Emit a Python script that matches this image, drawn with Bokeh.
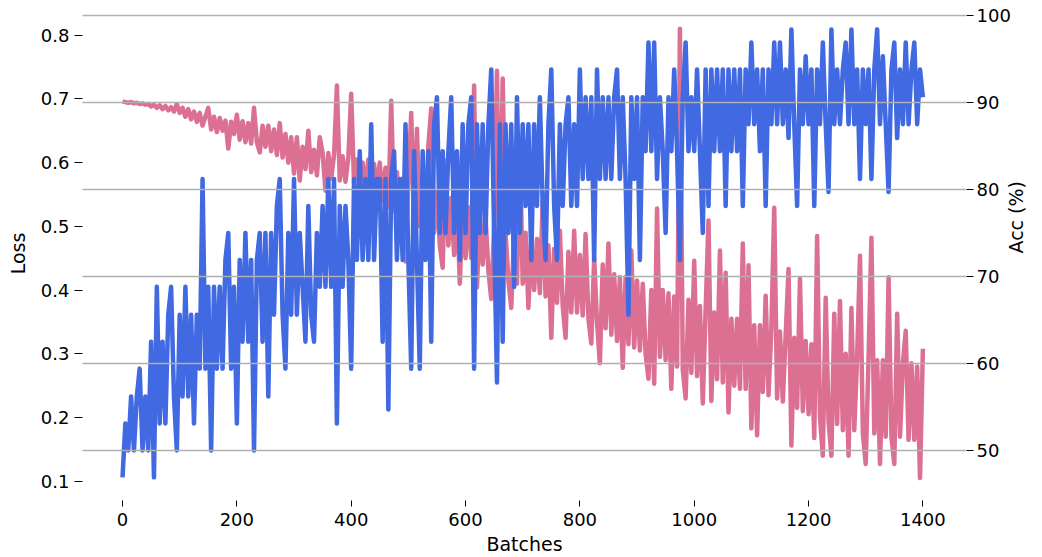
import math
from bokeh.plotting import figure
from bokeh.models import Range1d, LinearAxis, Grid, FixedTicker, ColumnDataSource
from bokeh.embed import file_html
from bokeh.resources import INLINE

# ---------------- data (one value every 5 batches) -------------
batch_step = 5
x_ticks = [0, 200, 400, 600, 800, 1000, 1200, 1400]
loss_ticks = [0.1, 0.2, 0.3, 0.4, 0.5, 0.6, 0.7, 0.8]
acc_ticks = [50, 60, 70, 80, 90, 100]

loss = [
    0.696, 0.695, 0.694, 0.695, 0.693, 0.694, 0.692, 0.693, 0.691, 0.692,
    0.688, 0.691, 0.686, 0.690, 0.684, 0.689, 0.682, 0.687, 0.680, 0.692,
    0.678, 0.686, 0.672, 0.684, 0.668, 0.680, 0.664, 0.678, 0.658, 0.672,
    0.686, 0.652, 0.672, 0.648, 0.670, 0.650, 0.666, 0.622, 0.664, 0.645,
    0.675, 0.636, 0.665, 0.632, 0.662, 0.630, 0.686, 0.632, 0.616, 0.658,
    0.625, 0.658, 0.618, 0.652, 0.612, 0.662, 0.608, 0.645, 0.600, 0.640,
    0.583, 0.640, 0.572, 0.625, 0.590, 0.650, 0.585, 0.620, 0.580, 0.640,
    0.615, 0.556, 0.615, 0.575, 0.612, 0.721, 0.572, 0.610, 0.570, 0.608,
    0.708, 0.568, 0.605, 0.565, 0.600, 0.560, 0.605, 0.536, 0.598, 0.560,
    0.600, 0.540, 0.592, 0.530, 0.697, 0.525, 0.585, 0.510, 0.575, 0.445,
    0.570, 0.678, 0.500, 0.653, 0.500, 0.575, 0.495, 0.627, 0.685, 0.490,
    0.555, 0.470, 0.435, 0.603, 0.470, 0.545, 0.455, 0.540, 0.410, 0.535,
    0.450, 0.530, 0.450, 0.721, 0.404, 0.520, 0.440, 0.515, 0.430, 0.386,
    0.500, 0.744, 0.420, 0.732, 0.490, 0.415, 0.372, 0.490, 0.410, 0.637,
    0.410, 0.490, 0.372, 0.480, 0.400, 0.480, 0.395, 0.540, 0.390, 0.470,
    0.325, 0.465, 0.380, 0.493, 0.375, 0.325, 0.460, 0.365, 0.493, 0.365,
    0.455, 0.360, 0.488, 0.355, 0.316, 0.450, 0.350, 0.285, 0.440, 0.340,
    0.473, 0.330, 0.425, 0.320, 0.420, 0.278, 0.420, 0.315, 0.462, 0.310,
    0.415, 0.305, 0.410, 0.300, 0.261, 0.400, 0.253, 0.528, 0.295, 0.400,
    0.290, 0.395, 0.245, 0.390, 0.280, 0.810, 0.275, 0.230, 0.385, 0.270,
    0.446, 0.265, 0.375, 0.222, 0.370, 0.509, 0.226, 0.365, 0.260, 0.462,
    0.255, 0.427, 0.208, 0.355, 0.250, 0.355, 0.245, 0.473, 0.245, 0.439,
    0.183, 0.345, 0.172, 0.345, 0.240, 0.391, 0.235, 0.340, 0.529, 0.230,
    0.335, 0.225, 0.330, 0.433, 0.156, 0.325, 0.215, 0.418, 0.210, 0.320,
    0.205, 0.315, 0.168, 0.485, 0.200, 0.140, 0.388, 0.195, 0.140, 0.363,
    0.190, 0.383, 0.180, 0.300, 0.140, 0.372, 0.180, 0.295, 0.454, 0.175,
    0.127, 0.295, 0.482, 0.175, 0.290, 0.127, 0.290, 0.170, 0.420, 0.170,
    0.127, 0.363, 0.170, 0.285, 0.336, 0.165, 0.285, 0.165, 0.280, 0.105,
    0.308,
]

acc = [
    46.9, 53.1, 50.0, 56.2, 50.0, 56.2, 59.4, 50.0, 56.2, 50.0,
    62.5, 46.9, 68.8, 53.1, 62.5, 53.1, 65.6, 68.8, 56.2, 50.0,
    65.6, 56.2, 68.8, 56.2, 65.6, 53.1, 65.6, 59.4, 81.2, 59.4,
    68.8, 50.0, 68.8, 59.4, 68.8, 59.4, 71.9, 75.0, 59.4, 68.8,
    53.1, 71.9, 62.5, 75.0, 62.5, 71.9, 50.0, 71.9, 75.0, 62.5,
    75.0, 56.2, 75.0, 65.6, 78.1, 81.2, 65.6, 59.4, 75.0, 65.6,
    81.2, 65.6, 75.0, 68.8, 62.5, 78.1, 65.6, 62.5, 75.0, 68.8,
    78.1, 68.8, 81.2, 68.8, 81.2, 53.1, 78.1, 68.8, 78.1, 71.9,
    59.4, 81.2, 71.9, 84.4, 71.9, 81.2, 71.9, 87.5, 71.9, 81.2,
    81.2, 62.5, 81.2, 54.7, 81.2, 84.4, 71.9, 81.2, 71.9, 87.5,
    71.9, 59.4, 84.4, 71.9, 59.4, 84.4, 71.9, 84.4, 62.5, 87.5,
    90.6, 75.0, 84.4, 75.0, 84.4, 90.6, 75.0, 84.4, 71.9, 87.5,
    75.0, 87.5, 90.6, 59.4, 87.5, 75.0, 87.5, 75.0, 87.5, 93.8,
    75.0, 57.8, 87.5, 62.5, 87.5, 75.0, 87.5, 68.8, 90.6, 75.0,
    87.5, 78.1, 87.5, 71.9, 87.5, 78.1, 90.6, 78.1, 71.9, 87.5,
    93.8, 78.1, 71.9, 87.5, 78.1, 87.5, 90.6, 78.1, 87.5, 78.1,
    93.8, 81.2, 90.6, 81.2, 90.6, 71.9, 93.8, 81.2, 90.6, 81.2,
    90.6, 81.2, 90.6, 93.8, 81.2, 90.6, 81.2, 65.6, 90.6, 81.2,
    90.6, 71.9, 90.6, 84.4, 96.9, 84.4, 96.9, 81.2, 90.6, 84.4,
    75.0, 90.6, 84.4, 93.8, 84.4, 71.9, 90.6, 96.9, 84.4, 90.6,
    84.4, 93.8, 84.4, 75.0, 93.8, 78.1, 93.8, 84.4, 93.8, 84.4,
    93.8, 78.1, 93.8, 84.4, 93.8, 84.4, 93.8, 78.1, 93.8, 87.5,
    96.9, 87.5, 93.8, 84.4, 93.8, 78.1, 93.8, 87.5, 96.9, 87.5,
    96.9, 87.5, 93.8, 85.9, 98.4, 87.5, 78.1, 93.8, 87.5, 95.3,
    87.5, 93.8, 78.1, 93.8, 87.5, 96.9, 87.5, 79.7, 98.4, 87.5,
    93.8, 87.5, 93.8, 96.9, 87.5, 98.4, 87.5, 93.8, 81.2, 93.8,
    87.5, 93.8, 81.2, 93.8, 98.4, 87.5, 95.3, 87.5, 79.7, 93.8,
    96.9, 85.9, 93.8, 87.5, 96.9, 87.5, 93.8, 96.9, 87.5, 93.8,
    90.6,
]

batches = [i * batch_step for i in range(len(loss))]

# ---------------- figure -----------------
FONT = "DejaVu Sans"

p = figure(
    width=1042, height=557,
    output_backend="svg", toolbar_location=None,
    x_range=Range1d(-70.0, 1476.3),
    y_range=Range1d(0.0698, 0.845),
    min_border_left=82, min_border_right=76,
    min_border_top=6, min_border_bottom=57,
    outline_line_color=None,
    background_fill_color="white", border_fill_color="white",
)
p.extra_y_ranges = {"acc": Range1d(44.24, 101.03)}

p.xgrid.visible = False
p.ygrid.visible = False

src = ColumnDataSource(dict(batch=batches, loss=loss, acc=acc))
p.line("batch", "loss", source=src, line_color="#DB7093", line_width=4.5, line_join="round")
p.line("batch", "acc", source=src, line_color="#4169E1", line_width=4.5, line_join="round",
       y_range_name="acc")

right = LinearAxis(y_range_name="acc", axis_label="Acc (%)")
p.add_layout(right, "right")

p.xaxis.ticker = FixedTicker(ticks=x_ticks)
p.yaxis[0].ticker = FixedTicker(ticks=loss_ticks)
right.ticker = FixedTicker(ticks=acc_ticks)
p.xaxis.axis_label = "Batches"
p.yaxis[0].axis_label = "Loss"

for ax in [p.xaxis[0], p.yaxis[0], right]:
    ax.axis_line_color = None
    ax.major_tick_line_color = "#000000"
    ax.major_tick_line_width = 1
    ax.major_tick_in = 0
    ax.minor_tick_line_color = None
    ax.major_label_text_font = FONT
    ax.major_label_text_font_size = "18px"
    ax.major_label_text_color = "#000000"
    ax.axis_label_text_font = FONT
    ax.axis_label_text_font_size = "19px"
    ax.axis_label_text_font_style = "normal"
    ax.axis_label_text_color = "#000000"

p.xaxis.major_tick_out = 6
p.xaxis.major_label_standoff = 6
p.xaxis.axis_label_standoff = 4
p.yaxis[0].major_tick_out = 8
p.yaxis[0].major_label_standoff = 5
p.yaxis[0].axis_label_standoff = 9
right.major_tick_out = 7
right.major_label_standoff = 3
right.axis_label_standoff = 2
right.axis_label_orientation = math.pi / 2

grid = Grid(dimension=1, ticker=FixedTicker(ticks=acc_ticks), y_range_name="acc",
            grid_line_color="#b0b0b0", grid_line_width=1.5, level="overlay")
p.add_layout(grid)

open("out.html", "w").write(file_html(p, INLINE))
